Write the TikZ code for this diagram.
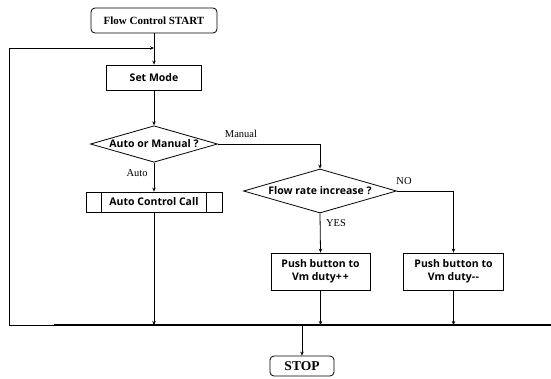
\documentclass[tikz,border=0pt]{standalone}
\usepackage{fontspec}
\setmainfont{Liberation Serif}
\newfontfamily\boxfont{Open Sans}
\usetikzlibrary{shapes.geometric,arrows.meta}
\begin{document}
\begin{tikzpicture}[x=1pt,y=1pt,
  line width=0.8pt,
  arr/.style={-{Stealth[length=4pt,width=3.5pt]}},
  termbox/.style={draw,rounded corners=4pt,inner sep=0pt,font=\rmfamily\bfseries},
  procbox/.style={draw,inner sep=0pt,align=center,font=\boxfont\bfseries\fontsize{10.5}{12.5}\selectfont},
  decbox/.style={draw,diamond,inner sep=0pt,font=\boxfont\bfseries\fontsize{10.5}{12.5}\selectfont},
  lbl/.style={font=\rmfamily\fontsize{10.5}{12}\selectfont,inner sep=0pt}]
\useasboundingbox (0,0) rectangle (551,-378);
\node[termbox,minimum width=126pt,minimum height=25pt,font=\rmfamily\bfseries\fontsize{11}{13}\selectfont] (start) at (154,-20.5) {Flow Control START};
\node[procbox,minimum width=95pt,minimum height=25pt] (setmode) at (154,-77.5) {Set Mode};
\node[decbox,shape aspect=3.47,minimum width=127pt,minimum height=36.5pt] (d1) at (154,-144) {Auto or Manual ?};
\node[procbox,minimum width=136pt,minimum height=20pt] (acc) at (154,-202) {Auto Control Call};
\node[decbox,shape aspect=3.48,minimum width=153pt,minimum height=44pt] (d2) at (320,-191) {Flow rate increase ?};
\node[procbox,minimum width=99pt,minimum height=37pt] (pushL) at (320.5,-271.5) {Push button to\\Vm duty+\kern1pt+};
\node[procbox,minimum width=100pt,minimum height=37pt] (pushR) at (453.5,-271.5) {Push button to\\Vm duty-\kern0.5pt-};
\node[termbox,minimum width=64pt,minimum height=20pt,font=\rmfamily\bfseries\fontsize{13.5}{15}\selectfont] (stop) at (302,-366) {STOP};
% inner lines of predefined process
\draw ([xshift=16pt]acc.north west) -- ([xshift=16pt]acc.south west);
\draw ([xshift=-16pt]acc.north east) -- ([xshift=-16pt]acc.south east);
% labels
\node[lbl] (lman) at (241,-134) {Manual};
\node[lbl] (lauto) at (137,-173) {Auto};
\node[lbl] (lyes) at (336,-223) {YES};
\node[lbl] (lno) at (404,-181) {NO};
% coordinates
\coordinate (busL) at (9,-325);
\coordinate (busT) at (54,-325);
\coordinate (busR) at (551,-325);
\coordinate (loopTop) at (9,-48);
\coordinate (join) at (154,-48);
\coordinate (bAcc) at (154,-325);
\coordinate (bL) at (320.5,-325);
\coordinate (bR) at (453.5,-325);
\coordinate (bStop) at (302,-325);
% connectors
\draw[arr] (start.south) -- (setmode.north);
\draw[arr] (busL) -- (loopTop) -- (join);
\draw[arr] (setmode.south) -- (d1.north);
\draw[arr] (d1.south) -- (acc.north);
\draw[arr] (d1.east) -| (d2.north);
\draw[arr] (d2.south) -- (pushL.north);
\draw[arr] (d2.east) -| (pushR.north);
\draw (busL) -- (busR);
\draw[line width=1.6pt] (busT) -- (busR);
\draw[arr] (acc.south) -- (bAcc);
\draw[arr] (pushL.south) -- (bL);
\draw[arr] (pushR.south) -- (bR);
\draw[arr] (bStop) -- (stop.north);
\end{tikzpicture}
\end{document}
